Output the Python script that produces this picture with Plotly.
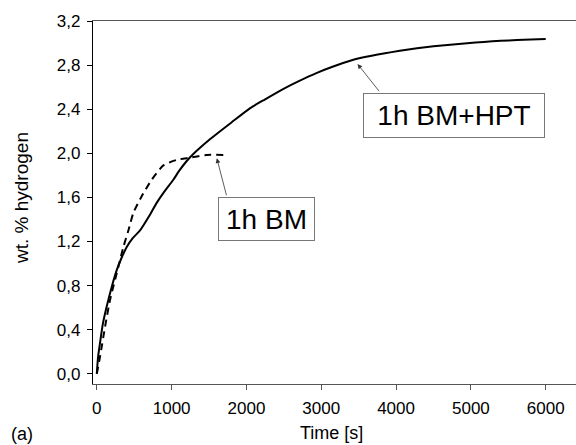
import plotly.graph_objects as go

# Data
t_hpt = [0, 10, 20, 43, 80, 132, 200, 266, 330, 400, 480, 578, 700, 800, 900, 1023, 1100, 1202, 1300,
         1380, 1500, 1648, 1800, 2050, 2250, 2495, 2700, 2942, 3150, 3387, 3600, 3833, 4050, 4280,
         4500, 4725, 4950, 5171, 5400, 5617, 5800, 6000]
w_hpt = [0.0, 0.10, 0.17, 0.28, 0.45, 0.61, 0.79, 0.94, 1.05, 1.15, 1.23, 1.30, 1.43, 1.55, 1.65, 1.76,
         1.84, 1.93, 2.00, 2.05, 2.12, 2.20, 2.28, 2.41, 2.49, 2.585, 2.655, 2.73, 2.785, 2.84, 2.875,
         2.905, 2.93, 2.952, 2.97, 2.985, 2.998, 3.01, 3.02, 3.027, 3.032, 3.036]

t_bm = [0, 43, 110, 177, 288, 355, 422, 489, 600, 734, 890, 1068, 1247, 1470, 1693]
w_bm = [0.0, 0.155, 0.426, 0.67, 0.97, 1.15, 1.30, 1.46, 1.61, 1.76, 1.89, 1.94, 1.96, 1.985, 1.985]

x_ticks = [0, 1000, 2000, 3000, 4000, 5000, 6000]
y_ticks = [0.0, 0.4, 0.8, 1.2, 1.6, 2.0, 2.4, 2.8, 3.2]
y_ticktext = ["0,0", "0,4", "0,8", "1,2", "1,6", "2,0", "2,4", "2,8", "3,2"]

FONT = "Liberation Sans, Arial, sans-serif"

fig = go.Figure()
fig.add_trace(go.Scatter(x=t_hpt, y=w_hpt, mode="lines",
                         line=dict(color="black", width=2, shape="spline", smoothing=0.6),
                         showlegend=False))
fig.add_trace(go.Scatter(x=t_bm, y=w_bm, mode="lines",
                         line=dict(color="black", width=2, dash="7px,5px", shape="spline", smoothing=0.6),
                         showlegend=False))

ann = []
# arrows
ann.append(dict(x=3485, y=2.81, ax=3789, ay=2.55, xref="x", yref="y", axref="x", ayref="y", text="",
                showarrow=True, arrowhead=2, arrowsize=1.2, arrowwidth=0.8, arrowcolor="#333"))
ann.append(dict(x=1604, y=1.955, ax=1738, ay=1.606, xref="x", yref="y", axref="x", ayref="y", text="",
                showarrow=True, arrowhead=2, arrowsize=1.2, arrowwidth=0.8, arrowcolor="#333"))
# label boxes
ann.append(dict(x=4779, y=2.34, xref="x", yref="y", text="1h BM+HPT", showarrow=False,
                font=dict(family=FONT, size=28, color="black"), width=180, height=43, borderpad=0,
                bordercolor="#777", borderwidth=1, bgcolor="white"))
ann.append(dict(x=2265, y=1.401, xref="x", yref="y", text="1h BM", showarrow=False,
                font=dict(family=FONT, size=28, color="black"), width=95, height=42, borderpad=0,
                bordercolor="#777", borderwidth=1, bgcolor="white"))
# axis titles
ann.append(dict(x=(21 - 93) / 483, y=(384 - 198) / 363, xref="paper", yref="paper", text="wt. % hydrogen",
                textangle=-90, showarrow=False, xanchor="center", yanchor="middle",
                font=dict(family=FONT, size=19, color="black")))
ann.append(dict(x=(331 - 93) / 483, y=(384 - 433) / 363, xref="paper", yref="paper", text="Time [s]",
                showarrow=False, xanchor="center", yanchor="middle",
                font=dict(family=FONT, size=18, color="black")))
ann.append(dict(x=(22 - 93) / 483, y=(384 - 434) / 363, xref="paper", yref="paper", text="(a)",
                showarrow=False, xanchor="center", yanchor="middle",
                font=dict(family=FONT, size=18, color="black")))

fig.update_layout(
    width=576, height=445,
    margin=dict(l=93, r=0, t=21, b=61),
    paper_bgcolor="white", plot_bgcolor="white",
    font=dict(family=FONT, color="black"),
    annotations=ann,
    xaxis=dict(range=[-51, 6405], tickvals=x_ticks, ticks="outside", ticklen=5, tickcolor="#555",
               showline=True, linecolor="#555", linewidth=1.2, mirror=True, showgrid=False, zeroline=False,
               ticklabelstandoff=3, tickfont=dict(family=FONT, size=17, color="black")),
    yaxis=dict(range=[-0.093, 3.2], tickvals=y_ticks, ticktext=y_ticktext, ticks="outside", ticklen=5,
               tickcolor="black", showline=True, linecolor="black", linewidth=1.2, mirror=False,
               showgrid=False, zeroline=False, ticklabelstandoff=3,
               tickfont=dict(family=FONT, size=17, color="black")),
)

fig.write_html("out.html", config={"displayModeBar": False},
               post_script="document.body.style.margin='0';document.body.style.overflow='hidden';")
